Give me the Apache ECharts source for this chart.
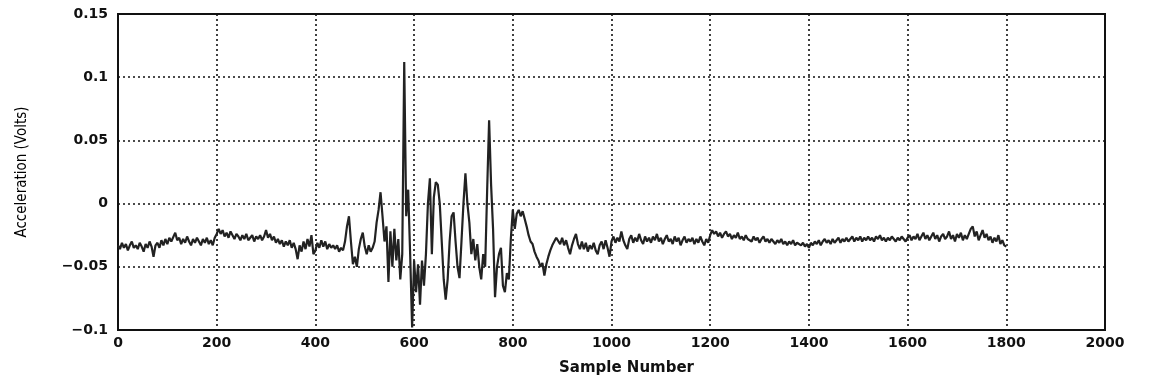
<!DOCTYPE html>
<html>
<head>
<meta charset="utf-8">
<script src="https://cdn.jsdelivr.net/npm/echarts@6/dist/echarts.min.js"></script>
<style>
  html, body { margin: 0; padding: 0; background: #fff; }
  #chart { width: 1149px; height: 383px; }
</style>
</head>
<body>
<div id="chart"></div>
<script>
const sampleStep = 4;

// Acceleration (Volts), one entry per sampleStep
const acceleration = [
  -0.033,-0.036,-0.031,-0.035,-0.032,-0.037,-0.033,-0.030,-0.035,-0.033,
  -0.036,-0.031,-0.034,-0.038,-0.032,-0.035,-0.030,-0.034,-0.042,-0.033,
  -0.031,-0.035,-0.029,-0.033,-0.028,-0.032,-0.027,-0.030,-0.029,-0.023,
  -0.029,-0.027,-0.032,-0.028,-0.031,-0.026,-0.030,-0.033,-0.028,-0.031,
  -0.027,-0.030,-0.033,-0.028,-0.031,-0.027,-0.032,-0.029,-0.033,-0.027,
  -0.024,-0.020,-0.024,-0.021,-0.026,-0.023,-0.027,-0.022,-0.025,-0.028,
  -0.024,-0.026,-0.029,-0.025,-0.028,-0.024,-0.029,-0.027,-0.025,-0.030,
  -0.026,-0.028,-0.025,-0.029,-0.026,-0.021,-0.027,-0.024,-0.029,-0.026,
  -0.031,-0.028,-0.032,-0.029,-0.034,-0.030,-0.033,-0.029,-0.035,-0.031,
  -0.036,-0.044,-0.033,-0.038,-0.030,-0.036,-0.028,-0.034,-0.025,-0.040,
  -0.037,-0.031,-0.035,-0.029,-0.034,-0.030,-0.036,-0.032,-0.035,-0.033,
  -0.036,-0.033,-0.038,-0.035,-0.037,-0.030,-0.018,-0.010,-0.030,-0.048,
  -0.042,-0.050,-0.036,-0.028,-0.023,-0.034,-0.040,-0.033,-0.038,-0.035,
  -0.030,-0.015,-0.005,0.009,-0.010,-0.030,-0.018,-0.062,-0.022,-0.050,
  -0.020,-0.045,-0.028,-0.060,-0.040,0.112,-0.010,0.011,-0.040,-0.098,
  -0.045,-0.070,-0.048,-0.080,-0.045,-0.065,-0.040,0.000,0.020,-0.040,
  0.005,0.017,0.015,0.000,-0.030,-0.060,-0.076,-0.060,-0.030,-0.010,
  -0.007,-0.030,-0.050,-0.059,-0.030,0.000,0.024,0.000,-0.015,-0.040,
  -0.028,-0.045,-0.032,-0.050,-0.060,-0.040,-0.050,0.010,0.066,0.015,
  -0.020,-0.074,-0.050,-0.040,-0.035,-0.065,-0.070,-0.055,-0.060,-0.028,
  -0.005,-0.020,-0.008,-0.005,-0.010,-0.006,-0.012,-0.018,-0.025,-0.030,
  -0.032,-0.038,-0.042,-0.045,-0.050,-0.047,-0.057,-0.048,-0.042,-0.037,
  -0.033,-0.030,-0.027,-0.028,-0.032,-0.027,-0.033,-0.029,-0.035,-0.040,
  -0.033,-0.028,-0.024,-0.032,-0.036,-0.030,-0.036,-0.031,-0.038,-0.033,
  -0.036,-0.031,-0.037,-0.040,-0.033,-0.030,-0.036,-0.029,-0.035,-0.042,
  -0.030,-0.026,-0.031,-0.027,-0.030,-0.022,-0.029,-0.033,-0.036,-0.028,
  -0.025,-0.031,-0.027,-0.030,-0.024,-0.029,-0.032,-0.026,-0.030,-0.027,
  -0.031,-0.026,-0.029,-0.024,-0.030,-0.027,-0.032,-0.028,-0.025,-0.030,
  -0.028,-0.032,-0.026,-0.030,-0.027,-0.033,-0.029,-0.026,-0.031,-0.028,
  -0.030,-0.027,-0.032,-0.028,-0.031,-0.026,-0.030,-0.033,-0.028,-0.031,
  -0.025,-0.021,-0.024,-0.022,-0.026,-0.023,-0.027,-0.024,-0.022,-0.026,
  -0.024,-0.028,-0.025,-0.027,-0.023,-0.028,-0.026,-0.029,-0.025,-0.028,
  -0.027,-0.030,-0.026,-0.029,-0.027,-0.031,-0.028,-0.026,-0.030,-0.028,
  -0.031,-0.028,-0.030,-0.032,-0.029,-0.031,-0.028,-0.032,-0.030,-0.033,
  -0.030,-0.032,-0.029,-0.033,-0.031,-0.030,-0.033,-0.031,-0.034,-0.032,
  -0.035,-0.031,-0.033,-0.030,-0.032,-0.029,-0.033,-0.030,-0.028,-0.031,
  -0.029,-0.032,-0.028,-0.031,-0.029,-0.027,-0.031,-0.028,-0.030,-0.027,
  -0.030,-0.028,-0.026,-0.030,-0.027,-0.029,-0.026,-0.030,-0.027,-0.029,
  -0.026,-0.029,-0.027,-0.030,-0.026,-0.028,-0.025,-0.029,-0.027,-0.030,
  -0.027,-0.029,-0.026,-0.028,-0.030,-0.027,-0.029,-0.026,-0.028,-0.030,
  -0.027,-0.025,-0.029,-0.026,-0.028,-0.024,-0.029,-0.026,-0.023,-0.028,
  -0.025,-0.029,-0.026,-0.023,-0.028,-0.025,-0.030,-0.026,-0.024,-0.028,
  -0.026,-0.022,-0.028,-0.025,-0.030,-0.024,-0.027,-0.023,-0.029,-0.025,
  -0.028,-0.024,-0.020,-0.018,-0.026,-0.022,-0.029,-0.025,-0.021,-0.027,
  -0.024,-0.029,-0.026,-0.031,-0.027,-0.030,-0.025,-0.032,-0.029,-0.033,
  -0.034
];

// Tick labels
const xTickLabels = ['0','200','400','600','800','1000','1200','1400','1600','1800','2000'];
const yTickLabels = ['\u22120.1','\u22120.05','0','0.05','0.1','0.15'];

const xName = 'Sample Number';
const yName = 'Acceleration (Volts)';

const seriesData = acceleration.map((v, i) => [i * sampleStep, v]);

const chart = echarts.init(document.getElementById('chart'), null, { renderer: 'canvas' });

const tickFont = {
  fontFamily: 'DejaVu Sans',
  fontWeight: 'bold',
  fontSize: 14,
  color: '#111'
};

chart.setOption({
  animation: false,
  backgroundColor: '#ffffff',
  grid: {
    left: 118, right: 44, top: 14, bottom: 53,
    show: true,
    borderColor: '#111',
    borderWidth: 2,
    backgroundColor: 'transparent'
  },
  xAxis: {
    type: 'value',
    min: 0, max: 2000, interval: 200,
    name: xName,
    nameLocation: 'middle',
    nameGap: 31,
    nameTextStyle: { fontFamily: 'DejaVu Sans', fontWeight: 'bold', fontSize: 15, color: '#111', padding: [0, 0, 0, 30] },
    axisLine: { show: false },
    axisTick: { show: false },
    axisLabel: Object.assign({ margin: 6, formatter: (v) => xTickLabels[Math.round(v / 200)] }, tickFont),
    splitLine: { show: true, lineStyle: { color: '#111', width: 1.6, type: [2, 3] } }
  },
  yAxis: {
    type: 'value',
    min: -0.1, max: 0.15, interval: 0.05,
    name: yName,
    nameLocation: 'middle',
    nameGap: 88,
    nameRotate: 90,
    nameTextStyle: { fontFamily: "'Liberation Sans Narrow', 'DejaVu Sans Condensed', sans-serif", fontSize: 15, color: '#000', padding: [0, 0, 0, 0] },
    axisLine: { show: false },
    axisTick: { show: false },
    axisLabel: Object.assign({ margin: 10, formatter: (v) => yTickLabels[Math.round((v + 0.1) / 0.05)] }, tickFont),
    splitLine: { show: true, lineStyle: { color: '#111', width: 1.6, type: [2, 3] } }
  },
  series: [{
    type: 'line',
    data: seriesData,
    showSymbol: false,
    symbol: 'none',
    lineStyle: { color: '#222', width: 2.2 },
    z: 3
  }]
});
</script>
</body>
</html>
